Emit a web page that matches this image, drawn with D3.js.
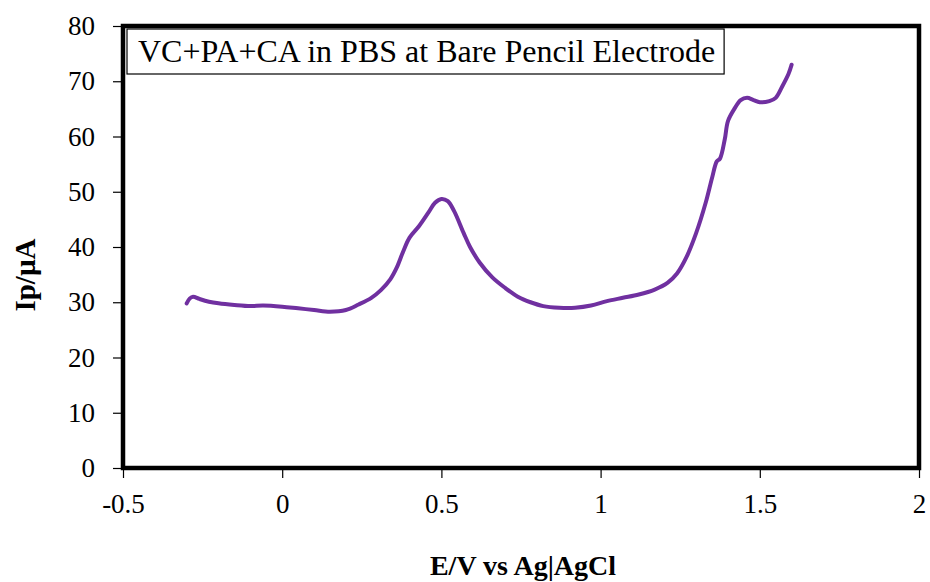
<!DOCTYPE html>
<html>
<head>
<meta charset="utf-8">
<script src="https://cdn.jsdelivr.net/npm/d3@7"></script>
<style>
  body { margin: 0; background: #fff; }
</style>
</head>
<body>
<svg id="chart"></svg>
<script>
// Data
const potential = [-0.30, -0.29, -0.28, -0.26, -0.23, -0.20, -0.15, -0.10, -0.06, 0.00, 0.05, 0.10, 0.15, 0.20, 0.24, 0.28, 0.31, 0.34, 0.36, 0.38, 0.40, 0.43, 0.46, 0.48, 0.50, 0.52, 0.54, 0.57, 0.59, 0.62, 0.66, 0.70, 0.74, 0.78, 0.82, 0.87, 0.92, 0.97, 1.02, 1.07, 1.12, 1.17, 1.21, 1.24, 1.27, 1.30, 1.33, 1.35, 1.365, 1.375, 1.39, 1.40, 1.42, 1.44, 1.46, 1.48, 1.50, 1.53, 1.55, 1.57, 1.59, 1.60]
const current = [29.8, 30.7, 31.0, 30.6, 30.1, 29.8, 29.5, 29.3, 29.4, 29.2, 28.9, 28.6, 28.3, 28.6, 29.6, 30.8, 32.2, 34.2, 36.3, 39.2, 41.7, 43.8, 46.3, 48.0, 48.7, 48.3, 46.5, 42.5, 40.0, 37.2, 34.5, 32.6, 31.0, 30.0, 29.3, 29.0, 29.0, 29.4, 30.2, 30.8, 31.4, 32.3, 33.5, 35.2, 38.2, 42.5, 48.0, 52.5, 55.5, 56.0, 59.5, 62.8, 65.0, 66.6, 67.0, 66.6, 66.2, 66.4, 67.0, 69.0, 71.3, 73.0]

const xTicks = [-0.5, 0, 0.5, 1, 1.5, 2]
const yTicks = [0, 10, 20, 30, 40, 50, 60, 70, 80]

const legendText = 'VC+PA+CA in PBS at Bare Pencil Electrode'
const xTitle = 'E/V vs Ag|AgCl'
const yTitle = 'Ip/\u00b5A'

const serif = '"Liberation Serif", "Times New Roman", serif'

const fullWidth = 930
const fullHeight = 582
const margin = { top: 26, right: 11, bottom: 114, left: 123 }
const width = fullWidth - margin.left - margin.right
const height = fullHeight - margin.top - margin.bottom

const svg = d3.select('#chart')
    .attr('width', fullWidth)
    .attr('height', fullHeight)

const g = svg.append('g')
    .attr('transform', `translate(${margin.left}, ${margin.top})`)

const xScale = d3.scaleLinear().domain([-0.5, 2]).range([0, width])
const yScale = d3.scaleLinear().domain([0, 80]).range([height, 0])

// Axes
const xAxis = g.append('g')
    .attr('transform', `translate(0, ${height})`)
    .call(d3.axisBottom(xScale).tickValues(xTicks).tickSize(10).tickPadding(16)
        .tickFormat(d => String(d)))
xAxis.select('.domain').remove()
xAxis.selectAll('line').attr('stroke', '#000').attr('stroke-width', 1.2)
xAxis.selectAll('text').style('font-size', '27px').style('font-family', serif).attr('fill', '#000')

const yAxis = g.append('g')
    .call(d3.axisLeft(yScale).tickValues(yTicks).tickSize(10).tickPadding(18)
        .tickFormat(d => String(d)))
yAxis.select('.domain').remove()
yAxis.selectAll('line').attr('stroke', '#000').attr('stroke-width', 1.2)
yAxis.selectAll('text').style('font-size', '27px').style('font-family', serif).attr('fill', '#000')

// Plot frame
g.append('rect')
    .attr('width', width)
    .attr('height', height)
    .attr('fill', 'none')
    .attr('stroke', '#000')
    .attr('stroke-width', 4.5)

// Curve
const line = d3.line()
    .x((d, i) => xScale(potential[i]))
    .y(d => yScale(d))
    .curve(d3.curveCatmullRom)

g.append('path')
    .datum(current)
    .attr('d', line)
    .attr('fill', 'none')
    .attr('stroke', '#7030a0')
    .attr('stroke-width', 4)
    .attr('stroke-linecap', 'round')
    .attr('stroke-linejoin', 'round')

// Legend box
const legend = g.append('g').attr('transform', 'translate(4, 3)')
const legendLabel = legend.append('text')
    .attr('x', 11)
    .attr('y', 33)
    .style('font-size', '32px')
    .style('font-family', serif)
    .text(legendText)
const bb = legendLabel.node().getBBox()
legend.insert('rect', 'text')
    .attr('x', 0)
    .attr('y', 0)
    .attr('width', bb.width + 20)
    .attr('height', 45)
    .attr('fill', '#fff')
    .attr('stroke', '#000')
    .attr('stroke-width', 1.2)

// Axis titles
svg.append('text')
    .attr('x', 523)
    .attr('y', 575)
    .attr('text-anchor', 'middle')
    .style('font-size', '28px')
    .style('font-weight', 'bold')
    .style('font-family', serif)
    .text(xTitle)

svg.append('text')
    .attr('transform', 'translate(35, 275) rotate(-90)')
    .attr('text-anchor', 'middle')
    .style('font-size', '29px')
    .style('font-weight', 'bold')
    .style('font-family', serif)
    .text(yTitle)
</script>
</body>
</html>
